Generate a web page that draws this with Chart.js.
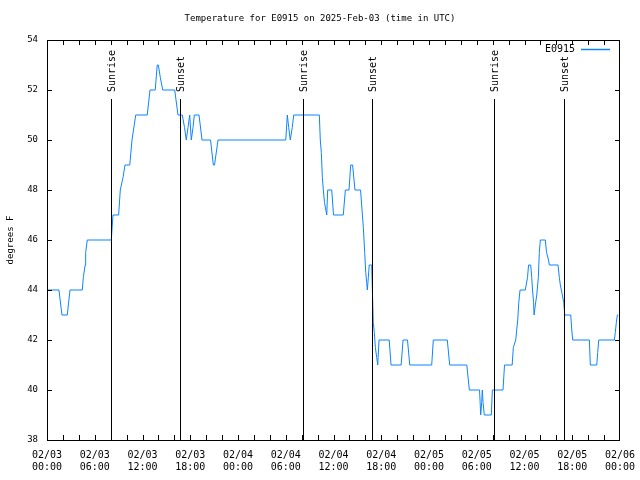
<!DOCTYPE html>
<html>
<head>
<meta charset="utf-8">
<script src="https://cdn.jsdelivr.net/npm/chart.js@4"></script>
<style>
html, body { margin: 0; padding: 0; background: #fff; }
</style>
</head>
<body>
<canvas id="tempChart" width="640" height="480"></canvas>
<script>
// hours since 2025-02-03 00:00 UTC, and temperature (F) at that time
const hours = [
  0, 1.50, 1.88, 2.55, 2.89, 4.44, 4.56, 4.80, 4.86, 5.06,
  8.08, 8.29, 9.00, 9.21, 9.55, 9.80, 10.40, 10.68, 11.15, 12.60,
  12.94, 13.60, 13.85, 13.99, 14.24, 14.54, 16.05, 16.46, 17.00, 17.28,
  17.50, 17.72, 17.93, 18.13, 18.35, 18.51, 19.10, 19.48, 20.55, 20.90,
  21.05, 21.49, 30.00, 30.20, 30.37, 30.57, 30.82, 31.00, 34.22, 34.34,
  34.47, 34.60, 34.72, 34.87, 35.15, 35.27, 35.78, 36.00, 37.23, 37.49,
  37.95, 38.16, 38.40, 38.70, 39.40, 39.75, 39.92, 40.05, 40.17, 40.25,
  40.38, 40.49, 40.80, 41.00, 41.13, 41.26, 41.43, 41.56, 41.72, 43.00,
  43.23, 44.50, 44.74, 45.30, 45.58, 48.34, 48.54, 50.30, 50.60, 52.75,
  53.07, 54.35, 54.50, 54.62, 54.70, 54.79, 54.95, 55.83, 55.96, 57.30,
  57.49, 58.45, 58.60, 58.90, 59.02, 59.15, 59.28, 59.44, 60.10, 60.38,
  60.51, 60.78, 60.91, 61.01, 61.14, 61.20, 61.36, 61.54, 61.74, 61.86,
  61.99, 62.62, 62.77, 63.02, 63.12, 64.21, 64.38, 64.50, 64.63, 64.93,
  65.06, 65.81, 65.94, 66.06, 68.15, 68.27, 69.08, 69.20, 69.33, 71.29,
  71.41, 71.54, 71.67, 71.79
];
const temps = [
  44, 44, 43, 43, 44, 44, 44.5, 45, 45.5, 46,
  46, 47, 47, 48, 48.5, 49, 49, 50, 51, 51,
  52, 52, 53, 53, 52.5, 52, 52, 51, 51, 50.5,
  50, 50.5, 51, 50, 50.5, 51, 51, 50, 50, 49,
  49, 50, 50, 51, 50.5, 50, 50.5, 51, 51, 50,
  49.5, 48.5, 48, 47.5, 47, 48, 48, 47, 47, 48,
  48, 49, 49, 48, 48, 46.5, 45.5, 44.7, 44.3, 44,
  44.5, 45, 45, 42.7, 42.3, 41.7, 41.3, 41, 42, 42,
  41, 41, 42, 42, 41, 41, 42, 42, 41, 41,
  40, 40, 39, 39.5, 40, 39.5, 39, 39, 40, 40,
  41, 41, 41.7, 42, 42.4, 42.8, 43.5, 44, 44, 44.5,
  45, 45, 44.5, 44, 43.5, 43, 43.4, 43.8, 44.5, 45.5,
  46, 46, 45.5, 45.2, 45, 45, 44.5, 44.2, 44, 43.5,
  43, 43, 42.4, 42, 42, 41, 41, 41.5, 42, 42,
  42.3, 42.7, 43, 43
];

const dayLabels = ['02/03', '02/04', '02/05', '02/06'];
const hourLabels = ['00:00', '06:00', '12:00', '18:00'];
const sunrise = [8.08, 32.2, 56.2];
const sunset = [16.75, 40.88, 64.98];

const FONT = '"DejaVu Sans Mono", monospace';
const LINE_COLOR = '#0d84ff';

const gnuplotFrame = {
  id: 'gnuplotFrame',
  afterDatasetsDraw(chart) {
    const ctx = chart.ctx;
    const a = chart.chartArea;
    const xs = chart.scales.x, ys = chart.scales.y;
    ctx.save();
    ctx.strokeStyle = '#000';
    ctx.lineWidth = 1;

    // sunrise / sunset markers
    ctx.font = '10px ' + FONT;
    ctx.fillStyle = '#000';
    const marks = sunrise.map(h => [h, 'Sunrise']).concat(sunset.map(h => [h, 'Sunset']));
    marks.forEach(([h, txt]) => {
      const x = Math.round(xs.getPixelForValue(h)) + 0.5;
      ctx.beginPath();
      ctx.moveTo(x, 99);
      ctx.lineTo(x, a.bottom);
      ctx.stroke();
      ctx.save();
      ctx.translate(x + 1, 92);
      ctx.rotate(-Math.PI / 2);
      ctx.textAlign = 'left';
      ctx.textBaseline = 'middle';
      ctx.fillText(txt, 0, 0);
      ctx.restore();
    });

    // border
    ctx.strokeRect(a.left + 0.5, a.top + 0.5, a.right - a.left - 1, a.bottom - a.top);

    // inward tick marks, x every 2 hours, y every 2 degrees
    ctx.beginPath();
    for (let h = 2; h < 72; h += 2) {
      const x = Math.round(xs.getPixelForValue(h)) + 0.5;
      ctx.moveTo(x, a.bottom); ctx.lineTo(x, a.bottom - 5);
      ctx.moveTo(x, a.top); ctx.lineTo(x, a.top + 5);
    }
    for (let v = 40; v < 54; v += 2) {
      const y = Math.round(ys.getPixelForValue(v)) + 0.5;
      ctx.moveTo(a.left, y); ctx.lineTo(a.left + 5, y);
      ctx.moveTo(a.right, y); ctx.lineTo(a.right - 5, y);
    }
    ctx.stroke();

    // legend
    const ds = chart.data.datasets[0];
    ctx.font = '10px ' + FONT;
    ctx.textAlign = 'right';
    ctx.textBaseline = 'middle';
    ctx.fillText(ds.label, 575, 49);
    ctx.strokeStyle = LINE_COLOR;
    ctx.lineWidth = 1.5;
    ctx.beginPath();
    ctx.moveTo(581, 49.5);
    ctx.lineTo(610, 49.5);
    ctx.stroke();

    // title
    ctx.fillStyle = '#000';
    ctx.textAlign = 'center';
    ctx.font = '9px ' + FONT;
    ctx.fillText('Temperature for E0915 on 2025-Feb-03 (time in UTC)', 320, 19);
    ctx.restore();
  }
};

new Chart(document.getElementById('tempChart'), {
  type: 'line',
  data: {
    datasets: [{
      label: 'E0915',
      data: hours.map((h, i) => ({ x: h, y: temps[i] })),
      borderColor: LINE_COLOR,
      borderWidth: 1,
      pointRadius: 0,
      tension: 0,
      fill: false
    }]
  },
  options: {
    responsive: false,
    animation: false,
    layout: { padding: { top: 40, right: 20, left: 0, bottom: 0 } },
    plugins: {
      legend: { display: false },
      title: { display: false },
      tooltip: { enabled: false }
    },
    scales: {
      x: {
        type: 'linear',
        min: 0,
        max: 72,
        afterFit: s => { s.height = 40; s.paddingLeft = 0; s.paddingRight = 0; },
        grid: { display: false, drawTicks: false },
        border: { display: false },
        ticks: {
          stepSize: 6,
          autoSkip: false,
          maxRotation: 0,
          padding: 9,
          color: '#000',
          font: { family: FONT, size: 10, lineHeight: 1.2 },
          callback: v => [dayLabels[Math.floor(v / 24)], hourLabels[(v % 24) / 6]]
        }
      },
      y: {
        min: 38,
        max: 54,
        afterFit: s => { s.width = 47; },
        grid: { display: false, drawTicks: false },
        border: { display: false },
        ticks: {
          stepSize: 2,
          padding: 9,
          color: '#000',
          font: { family: FONT, size: 9 }
        },
        title: {
          display: true,
          text: 'degrees F',
          color: '#000',
          font: { family: FONT, size: 9 },
          padding: { top: 5, bottom: 2 }
        }
      }
    }
  },
  plugins: [gnuplotFrame]
});
</script>
</body>
</html>
